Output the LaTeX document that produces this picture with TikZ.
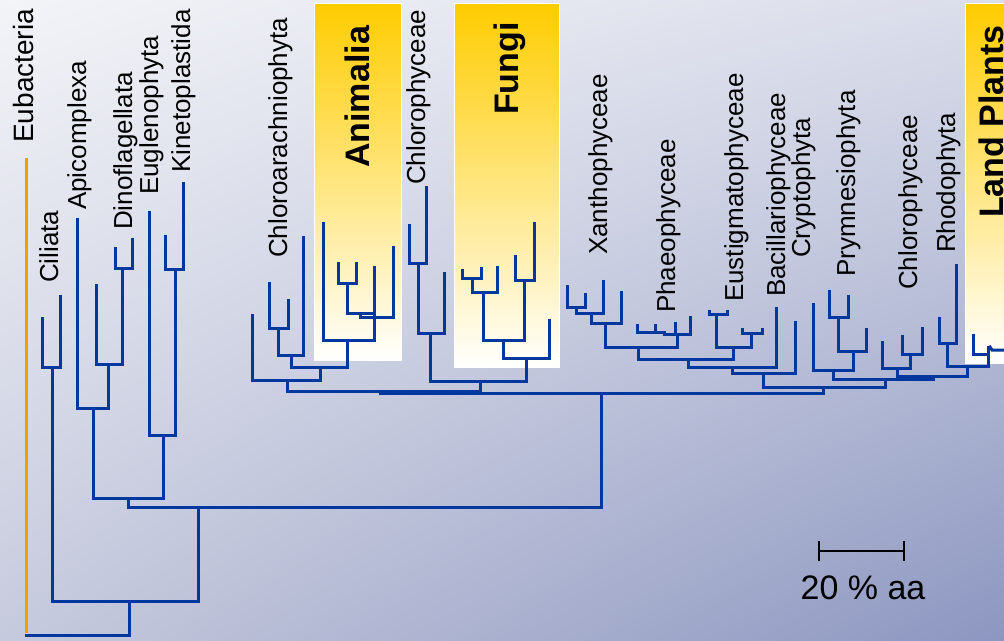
\documentclass[tikz,border=0pt]{standalone}
\usepackage{fontspec}
\setmainfont{Liberation Sans}
\usetikzlibrary{shadings}
\definecolor{treeblue}{RGB}{0,56,160}
\definecolor{orangeline}{RGB}{255,153,0}
\definecolor{gold}{RGB}{255,204,0}
\definecolor{bgA}{RGB}{243,244,248}
\definecolor{bgB}{RGB}{218,221,234}
\definecolor{bgC}{RGB}{198,202,221}
\definecolor{bgD}{RGB}{140,150,192}
\newcommand{\fk}[5]{\draw[tree] (#1,#2)--(#1,#5)--(#3,#5)--(#3,#4);}
\begin{document}
\begin{tikzpicture}[x=1pt,y=-1pt,
  tree/.style={draw=treeblue,line width=3pt,line cap=rect,line join=miter},
  lab/.style={rotate=90,anchor=base west,inner sep=0pt,font=\fontsize{26}{30}\selectfont},
  biglab/.style={rotate=90,anchor=base west,inner sep=0pt,font=\fontsize{34}{40}\selectfont\bfseries},
  groupbox/.style={top color=gold,bottom color=white,draw=white,line width=1pt}]
\useasboundingbox (0,0) rectangle (1004,640);
\shade[upper left=bgA,upper right=bgB,lower left=bgC,lower right=bgD] (0,0) rectangle (1004,640);
% group boxes
\shade[groupbox] (314,3) rectangle (401,360);
\shade[groupbox] (454,3) rectangle (559,367);
\shade[groupbox] (965,3) rectangle (1010,363);
% Eubacteria
\draw[draw=orangeline,line width=3pt] (26,158)--(26,633);
\draw[tree] (26,635)--(129,635);
\draw[tree] (129,601)--(129,635);
% left clades
\fk{52}{367}{198}{507}{601}
\fk{42}{318}{60}{296}{367}
\fk{128}{498}{601}{393}{507}
\fk{93}{408}{163}{435}{498}
\fk{77}{219}{108}{364}{408}
\fk{96}{285}{122}{268}{364}
\fk{115}{248}{132}{239}{268}
\fk{149}{212}{175}{269}{435}
\fk{165}{236}{183}{183}{269}
% main
\fk{380}{391}{823}{387}{393}
% middle
\fk{287}{380}{480}{381}{391}
\fk{252}{315}{320}{367}{380}
\fk{291}{355}{347}{340}{367}
\fk{278}{328}{303}{237}{355}
\fk{269}{283}{288}{300}{328}
\fk{323}{223}{374}{267}{340}
\fk{338}{263}{356}{263}{283}
\draw[tree] (347,283)--(347,313)--(374,313);
\draw[tree] (360,313)--(360,317)--(393,317)--(393,247);
\fk{430}{333}{526}{358}{381}
\fk{418}{263}{444}{273}{333}
\fk{409}{225}{426}{187}{263}
\fk{503}{340}{549}{320}{358}
\fk{483}{292}{524}{280}{340}
\fk{472}{278}{497}{267}{292}
\fk{462}{270}{481}{268}{278}
\fk{515}{256}{534}{223}{280}
% right
\fk{763}{373}{885}{379}{387}
\fk{732}{367}{795}{322}{373}
\fk{688}{359}{776}{308}{367}
\fk{638}{347}{733}{347}{359}
\fk{605}{323}{677}{334}{347}
\fk{591}{313}{621}{292}{323}
\fk{576}{307}{603}{281}{313}
\fk{567}{286}{585}{294}{307}
\draw[tree] (637,325)--(637,332)--(664,332)--(664,334)--(690,334)--(690,317);
\draw[tree] (655,325)--(655,332);
\draw[tree] (675,323)--(675,334);
\fk{716}{314}{751}{333}{347}
\draw[tree] (709,311)--(709,314)--(727,314)--(727,311);
\draw[tree] (742,329)--(742,333)--(762,333)--(762,329);
\fk{833}{370}{933}{376}{379}
\fk{813}{304}{853}{351}{370}
\fk{838}{317}{866}{329}{351}
\fk{829}{291}{848}{296}{317}
\fk{897}{368}{967}{366}{376}
\fk{882}{342}{910}{354}{368}
\fk{902}{336}{922}{328}{354}
\fk{947}{343}{988}{354}{366}
\fk{939}{318}{956}{265}{343}
\fk{973}{335}{988}{347}{354}
\draw[tree] (990,347)--(992,350)--(1004,350);
% labels
\node[lab,font=\fontsize{28}{32}\selectfont] (eub) at (33,143) {Eubacteria};
\node[lab] (cil) at (58,283) {Ciliata};
\node[lab] (api) at (86,210) {Apicomplexa};
\node[lab] (din) at (132,230) {Dinoflagellata};
\node[lab] (eug) at (158,195) {Euglenophyta};
\node[lab] (kin) at (190,173) {Kinetoplastida};
\node[lab] (chla) at (287,258) {Chloroarachniophyta};
\node[biglab] (ani) at (369,168) {Animalia};
\node[lab] (chl1) at (425,185) {Chlorophyceae};
\node[biglab] (fun) at (518,115) {Fungi};
\node[lab] (xan) at (607,255) {Xanthophyceae};
\node[lab] (pha) at (675,313) {Phaeophyceae};
\node[lab] (eus) at (743,302) {Eustigmatophyceae};
\node[lab] (bac) at (785,297) {Bacillariophyceae};
\node[lab] (cry) at (810,258) {Cryptophyta};
\node[lab] (pry) at (855,277) {Prymnesiophyta};
\node[lab] (chl2) at (917,290) {Chlorophyceae};
\node[lab] (rho) at (955,253) {Rhodophyta};
\node[biglab] (lp) at (1003,218) {Land Plants};
% scale bar
\coordinate (sbl) at (819,551);
\coordinate (sbr) at (904,551);
\draw[line width=2.5pt] (sbl)--(sbr);
\draw[line width=2.5pt] ([yshift=10pt]sbl)--([yshift=-10pt]sbl);
\draw[line width=2.5pt] ([yshift=10pt]sbr)--([yshift=-10pt]sbr);
\node[anchor=base,inner sep=0pt,font=\fontsize{34}{40}\selectfont] (sbt) at (863,599) {20 \% aa};
\end{tikzpicture}
\end{document}
